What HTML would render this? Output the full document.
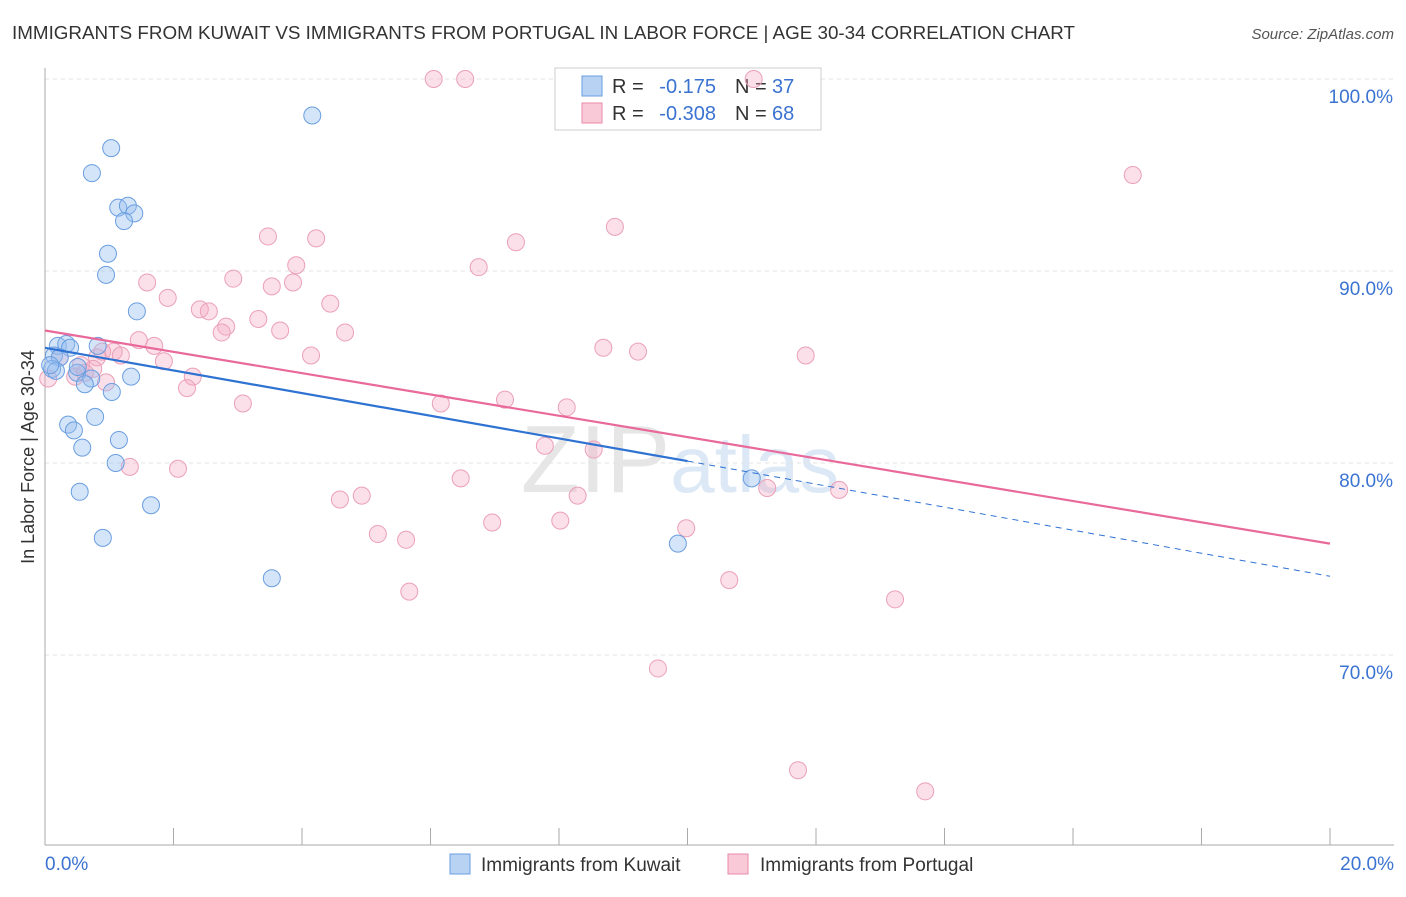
<!DOCTYPE html>
<html><head><meta charset="utf-8"><style>
body{margin:0;background:#fff;font-family:"Liberation Sans",sans-serif}
svg text{font-family:"Liberation Sans",sans-serif}
</style></head><body>
<svg id="chart" width="1406" height="892">
<text x="12" y="39" font-size="18" fill="#333" textLength="1063" lengthAdjust="spacingAndGlyphs">IMMIGRANTS FROM KUWAIT VS IMMIGRANTS FROM PORTUGAL IN LABOR FORCE | AGE 30-34 CORRELATION CHART</text>
<text x="1394" y="39" font-size="15" fill="#555" text-anchor="end" font-style="italic">Source: ZipAtlas.com</text>
<text x="680" y="492" font-size="96" fill="#e6e6e6" text-anchor="middle" font-family="Liberation Serif">ZIP<tspan fill="#dce8f5" font-family="Liberation Sans" font-size="80">atlas</tspan></text>
<g id="grid"></g>
<g id="axes"></g>
<g>
<rect x="555" y="68" width="266" height="62" fill="#fff" stroke="#ccc"/>
<rect x="582" y="76" width="20" height="20" fill="#b7d2f3" stroke="#6a9ee0"/>
<rect x="582" y="103" width="20" height="20" fill="#f9c9d7" stroke="#e98aa8"/>
<text x="612" y="93" font-size="20" fill="#333">R =</text>
<text x="716" y="93" font-size="20" fill="#3b73d1" text-anchor="end">-0.175</text>
<text x="735" y="93" font-size="20" fill="#333">N =</text>
<text x="772" y="93" font-size="20" fill="#3b73d1">37</text>
<text x="612" y="120" font-size="20" fill="#333">R =</text>
<text x="716" y="120" font-size="20" fill="#3b73d1" text-anchor="end">-0.308</text>
<text x="735" y="120" font-size="20" fill="#333">N =</text>
<text x="772" y="120" font-size="20" fill="#3b73d1">68</text>
</g>
<g id="marks"></g>
<g id="trends"></g>
<text transform="translate(34,457) rotate(-90)" font-size="18" fill="#333" text-anchor="middle">In Labor Force | Age 30-34</text>
<g>
<rect x="450" y="854" width="20" height="20" fill="#b7d2f3" stroke="#6a9ee0"/>
<text x="481" y="871" font-size="19" fill="#333">Immigrants from Kuwait</text>
<rect x="728" y="854" width="20" height="20" fill="#f9c9d7" stroke="#e98aa8"/>
<text x="760" y="871" font-size="19" fill="#333">Immigrants from Portugal</text>
</g>
</svg>
<script>
const xTicks=[0,2,4,6,8,10,12,14,16,18,20];
const yTicks=[70,80,90,100];
const kuwaitX=[4.16,1.03,0.73,1.14,1.29,1.39,1.23,0.98,0.95,1.43,0.2,0.33,0.39,0.82,0.14,0.23,0.11,0.17,0.5,0.72,0.62,1.34,1.04,0.51,0.78,0.36,0.45,0.58,1.15,1.1,0.54,1.65,0.9,3.53,9.85,11.0,0.08];
const kuwaitY=[98.1,96.4,95.1,93.3,93.4,93.0,92.6,90.9,89.8,87.9,86.1,86.2,86.0,86.1,85.6,85.5,84.9,84.8,84.7,84.4,84.1,84.5,83.7,85.0,82.4,82.0,81.7,80.8,81.2,80.0,78.5,77.8,76.1,74.0,75.8,79.2,85.1];
const portX=[6.05,6.54,11.03,16.93,8.87,3.47,4.22,7.33,6.75,3.91,2.93,1.59,3.53,3.86,1.91,2.41,2.55,4.44,3.32,2.82,3.66,2.75,4.67,1.46,1.7,1.07,1.18,4.14,8.69,9.23,11.84,1.85,0.81,0.56,0.75,2.3,0.95,2.21,3.08,6.16,7.16,8.12,7.78,8.54,1.32,2.07,6.47,4.59,4.93,8.29,11.24,12.36,6.96,8.02,9.98,5.18,5.62,5.67,10.65,13.23,9.54,11.72,13.7,0.05,0.23,0.62,0.47,0.89];
const portY=[100.0,100.0,100.0,95.0,92.3,91.8,91.7,91.5,90.2,90.3,89.6,89.4,89.2,89.4,88.6,88.0,87.9,88.3,87.5,87.1,86.9,86.8,86.8,86.4,86.1,85.8,85.6,85.6,86.0,85.8,85.6,85.3,85.5,85.1,84.9,84.5,84.2,83.9,83.1,83.1,83.3,82.9,80.9,80.7,79.8,79.7,79.2,78.1,78.3,78.3,78.7,78.6,76.9,77.0,76.6,76.3,76.0,73.3,73.9,72.9,69.3,64.0,62.9,84.4,85.5,84.7,84.5,85.8];
const kuwaitTrend=[86.0,80.1,74.1];
const portTrend=[86.9,75.8];
const X=v=>45+v/20*1285, Y=v=>79+(100-v)*19.2;
const NS='http://www.w3.org/2000/svg';
function mk(tag,attrs,parent){const e=document.createElementNS(NS,tag);for(const k in attrs)e.setAttribute(k,attrs[k]);document.getElementById(parent).appendChild(e);return e;}
yTicks.forEach(t=>{
 const l=mk('line',{x1:45,x2:1394,y1:Y(t),y2:Y(t),stroke:'#e3e3e3','stroke-dasharray':'4,4'},'grid');
 
 
 const tx=mk('text',{x:1393,y:Y(t)+24,'font-size':19,fill:'#3b73d1','text-anchor':'end'},'grid');tx.textContent=t.toFixed(1)+'%';
 
 
});
const ax=mk('line',{x1:45,x2:1394,y1:845,y2:845,stroke:'#aaa'},'axes');


const ay=mk('line',{x1:45,x2:45,y1:68,y2:845,stroke:'#aaa'},'axes');


xTicks.forEach(t=>{
 const l=mk('line',{x1:X(t),x2:X(t),y1:828,y2:845,stroke:'#aaa'},'axes');
 
 
});
[[0,45,'start'],[20,1394,'end']].forEach(([v,x,a])=>{
 const tx=mk('text',{x:x,y:870,'font-size':19,fill:'#3b73d1','text-anchor':a},'axes');tx.textContent=v.toFixed(1)+'%';
 
 
});
portX.forEach((v,i)=>{
 const c=mk('circle',{cx:X(v),cy:Y(portY[i]),r:8.5,fill:'rgba(244,167,193,0.35)',stroke:'#eba0b8','stroke-width':1},'marks');
 
 
});
kuwaitX.forEach((v,i)=>{
 const c=mk('circle',{cx:X(v),cy:Y(kuwaitY[i]),r:8.5,fill:'rgba(150,190,240,0.4)',stroke:'#6a9ee0','stroke-width':1},'marks');
 
 
});
const pl=mk('line',{x1:X(0),y1:Y(portTrend[0]),x2:X(20),y2:Y(portTrend[1]),stroke:'#e8699a','stroke-width':2.2},'trends');


const bl=mk('line',{x1:X(0),y1:Y(kuwaitTrend[0]),x2:X(10),y2:Y(kuwaitTrend[1]),stroke:'#2e72d2','stroke-width':2.2},'trends');


const bd=mk('line',{x1:X(10),y1:Y(kuwaitTrend[1]),x2:X(20),y2:Y(kuwaitTrend[2]),stroke:'#2e72d2','stroke-width':1,'stroke-dasharray':'6,5'},'trends');


</script>
</body></html>
